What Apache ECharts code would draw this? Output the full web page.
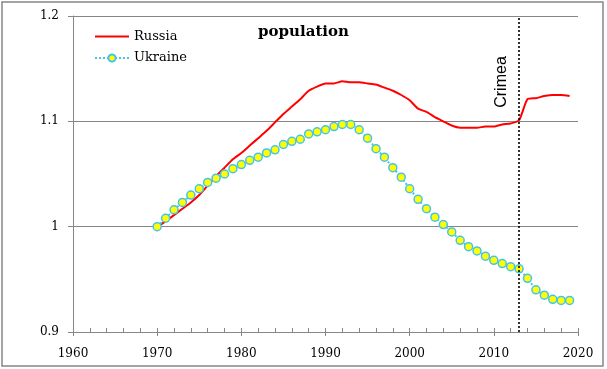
<!DOCTYPE html>
<html>
<head>
<meta charset="utf-8">
<script src="https://cdn.jsdelivr.net/npm/echarts@6/dist/echarts.min.js"></script>
<style>
html,body{margin:0;padding:0;background:#fff;}
#c{width:607px;height:369px;}
</style>
</head>
<body>
<div id="c"></div>
<script>
const years = [1970,1971,1972,1973,1974,1975,1976,1977,1978,1979,
  1980,1981,1982,1983,1984,1985,1986,1987,1988,1989,
  1990,1991,1992,1993,1994,1995,1996,1997,1998,1999,
  2000,2001,2002,2003,2004,2005,2006,2007,2008,2009,
  2010,2011,2012,2013,2014,2015,2016,2017,2018,2019];
const russia = [1.000,1.005,1.011,1.017,1.023,1.030,1.039,1.048,1.056,1.064,
  1.070,1.077,1.084,1.091,1.099,1.107,1.114,1.121,1.129,1.133,
  1.136,1.136,1.138,1.137,1.137,1.136,1.135,1.132,1.129,1.125,
  1.120,1.112,1.109,1.104,1.100,1.096,1.094,1.094,1.094,1.095,
  1.095,1.097,1.098,1.101,1.121,1.122,1.124,1.125,1.125,1.124];
const ukraine = [1.000,1.008,1.016,1.023,1.030,1.036,1.042,1.046,1.050,1.055,
  1.059,1.063,1.066,1.070,1.073,1.078,1.081,1.083,1.088,1.090,
  1.092,1.095,1.097,1.097,1.092,1.084,1.074,1.066,1.056,1.047,
  1.036,1.026,1.017,1.009,1.002,0.995,0.987,0.981,0.977,0.972,
  0.968,0.965,0.962,0.960,0.951,0.940,0.935,0.931,0.930,0.930];
const seriesNames = ['Russia','Ukraine'];
const eventYear = 2013;
const eventLabel = 'Crimea';
const titleText = 'population';
const yTicks = [0.9,1.0,1.1,1.2];
const xTicks = [1960,1970,1980,1990,2000,2010,2020];

const gray = '#868686';
const serif = 'DejaVu Serif';
const chart = echarts.init(document.getElementById('c'));
chart.setOption({
  animation:false,
  title:{text:titleText,left:'center',top:25,padding:0,
    textStyle:{fontFamily:serif,fontWeight:'bold',fontSize:15,color:'#000'}},
  legend:{orient:'vertical',left:94,top:30,padding:0,itemWidth:34,itemHeight:9,itemGap:8.5,
    textStyle:{fontFamily:serif,fontSize:13,color:'#000'},
    data:[{name:seriesNames[0],itemStyle:{opacity:0}},seriesNames[1]]},
  grid:{left:73,right:29,top:16,bottom:37},
  xAxis:[{type:'value',min:xTicks[0],max:xTicks[xTicks.length-1],interval:10,
      axisLine:{lineStyle:{color:gray,width:1}},
      axisTick:{show:true,inside:false,length:4,lineStyle:{color:gray}},
      axisLabel:{color:'#000',fontFamily:serif,fontSize:12,margin:16,formatter:v=>String(v)},
      splitLine:{show:false}},
    {type:'value',min:xTicks[0],max:xTicks[xTicks.length-1],interval:2,position:'bottom',
      axisLine:{show:false},
      axisTick:{show:true,inside:true,length:4,lineStyle:{color:gray}},
      axisLabel:{show:false},splitLine:{show:false}}],
  yAxis:{type:'value',min:yTicks[0],max:yTicks[yTicks.length-1],interval:0.1,
    axisLine:{show:true,lineStyle:{color:gray,width:1}},
    axisTick:{show:true,inside:false,length:5,lineStyle:{color:gray}},
    axisLabel:{color:'#000',fontFamily:serif,fontSize:12,margin:14,
      formatter:v=>String(Math.round(v*10)/10)},
    splitLine:{show:true,lineStyle:{color:gray,width:1}}},
  series:[
    {name:seriesNames[0],type:'line',xAxisIndex:0,smooth:0.2,symbol:'none',
      data:years.map((y,i)=>[y,russia[i]]),
      lineStyle:{color:'#ff0000',width:2},itemStyle:{color:'#ff0000'},z:3,
      markLine:{silent:true,symbol:['none','none'],label:{show:false},
        lineStyle:{color:'#000',type:[2,2],width:1.6},
        data:[[{coord:[eventYear,yTicks[0]]},{coord:[eventYear,yTicks[yTicks.length-1]]}]]}},
    {name:seriesNames[1],type:'line',xAxisIndex:0,symbol:'circle',symbolSize:8,
      data:years.map((y,i)=>[y,ukraine[i]]),
      lineStyle:{color:'#3cc8f0',width:2,type:'dotted'},
      itemStyle:{color:'#ffff00',borderColor:'#45c3ee',borderWidth:1.5},z:4}
  ]
});
const p = chart.convertToPixel({xAxisIndex:0,yAxisIndex:0},[eventYear,yTicks[yTicks.length-1]]);
chart.setOption({graphic:[
  {type:'rect',shape:{x:2,y:2,width:601,height:364},silent:true,
    style:{fill:'none',stroke:gray,lineWidth:1.5},z:0},
  {type:'text',x:p[0]-17,y:p[1]+66,rotation:Math.PI/2,silent:true,
    style:{text:eventLabel,font:'16px "Liberation Sans"',fill:'#000',
      align:'center',verticalAlign:'middle'}}
]});
</script>
</body>
</html>
